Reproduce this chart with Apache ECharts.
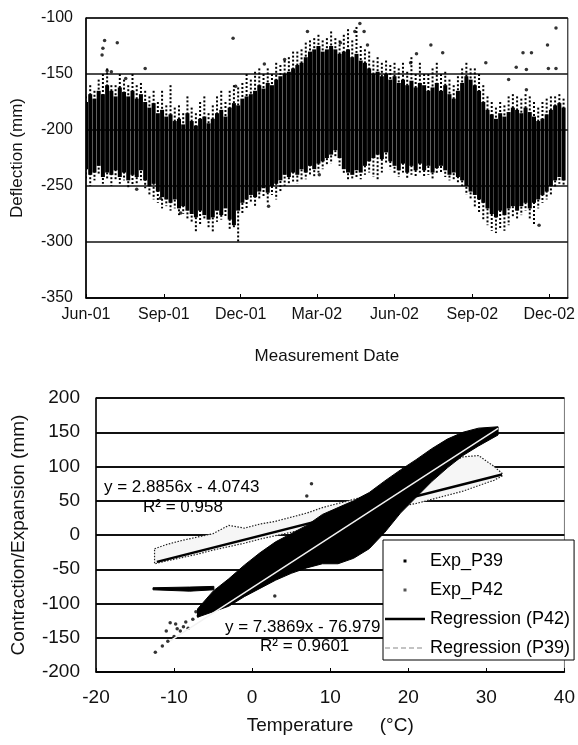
<!DOCTYPE html>
<html>
<head>
<meta charset="utf-8" />
<title></title>
<style>
  body { margin: 0; padding: 0; background: #fff; }
  #chart { width: 578px; height: 745px; }
</style>
<script src="https://cdn.jsdelivr.net/npm/echarts@6/dist/echarts.min.js"></script>
</head>
<body>
<div id="chart"></div>
<script>
// ---- top chart: deflection in 5-day bins from 1 Jun 2001 ----
const binDays = 5;
// dense core of the cloud (top / bottom) and the sparse spikes (max / min)
const topHi = [-175,-168,-172,-165,-168,-160,-165,-170,-162,-166,
  -170,-165,-172,-168,-175,-180,-176,-185,-182,-188,
  -186,-192,-190,-195,-185,-192,-196,-190,-188,-194,
  -190,-185,-182,-188,-180,-176,-178,-172,-170,-168,
  -165,-160,-163,-158,-160,-155,-152,-150,-148,-145,
  -142,-140,-135,-130,-128,-125,-130,-128,-125,-128,
  -132,-130,-128,-135,-132,-138,-140,-145,-150,-148,
  -152,-150,-155,-152,-158,-155,-160,-156,-162,-158,
  -160,-165,-162,-158,-165,-160,-168,-172,-165,-158,
  -152,-155,-160,-165,-175,-182,-186,-190,-185,-188,
  -184,-180,-182,-185,-180,-184,-188,-192,-190,-186,
  -182,-178,-176,-180];
const topLo = [-235,-240,-238,-232,-242,-238,-240,-236,-242,-238,
  -245,-240,-242,-236,-245,-250,-248,-255,-260,-262,
  -265,-262,-270,-268,-272,-275,-278,-272,-276,-280,
  -278,-272,-276,-270,-280,-285,-272,-265,-262,-258,
  -260,-255,-252,-256,-250,-248,-245,-240,-242,-238,
  -240,-235,-238,-232,-235,-230,-228,-225,-222,-218,
  -225,-235,-238,-240,-236,-238,-232,-228,-225,-222,
  -226,-220,-228,-232,-236,-230,-238,-232,-236,-230,
  -236,-232,-238,-234,-232,-236,-240,-238,-242,-245,
  -250,-255,-258,-262,-265,-270,-275,-278,-272,-276,
  -270,-268,-272,-268,-265,-270,-265,-262,-258,-255,
  -250,-245,-242,-245];
const topMax = [-170,-160,-165,-155,-150,-145,-160,-160,-150,-155,
  -160,-150,-160,-158,-165,-170,-165,-175,-165,-178,
  -160,-180,-178,-185,-170,-180,-185,-175,-170,-185,
  -178,-170,-165,-175,-165,-160,-162,-158,-150,-155,
  -148,-145,-150,-145,-150,-140,-142,-138,-135,-130,
  -130,-128,-122,-120,-118,-115,-120,-118,-112,-118,
  -120,-115,-110,-120,-108,-125,-128,-130,-138,-135,
  -140,-138,-142,-140,-145,-140,-148,-135,-150,-140,
  -150,-150,-145,-140,-150,-148,-155,-160,-152,-145,
  -140,-145,-145,-150,-160,-170,-175,-180,-175,-178,
  -170,-168,-170,-172,-168,-170,-175,-180,-175,-172,
  -170,-170,-168,-172];
const topMin = [-245,-250,-245,-240,-248,-245,-250,-245,-248,-245,
  -252,-250,-248,-245,-252,-258,-262,-265,-270,-268,
  -272,-270,-276,-275,-280,-282,-292,-285,-280,-288,
  -292,-282,-280,-278,-290,-288,-301,-275,-270,-265,
  -268,-262,-260,-265,-258,-262,-255,-250,-248,-246,
  -248,-245,-244,-240,-242,-238,-235,-232,-230,-225,
  -232,-240,-245,-245,-242,-244,-240,-238,-242,-245,
  -238,-230,-235,-240,-242,-238,-244,-240,-242,-238,
  -242,-240,-244,-240,-238,-242,-245,-244,-248,-250,
  -258,-262,-270,-275,-280,-285,-290,-292,-288,-290,
  -285,-278,-280,-276,-272,-280,-285,-270,-265,-262,
  -258,-252,-248,-250];
// isolated points: days after 1 Jun 2001, deflection
const outlierDays = [20,22,19,37,25,30,47,70,174,177,211,235,216,88,60,112,324,318,329,333,262,301,
  408,422,391,384,473,517,527,546,556,509,521,547,556,276,536,500,521];
const outlierVals = [-127,-120,-133,-122,-147,-148,-154,-145,-118,-161,-141,-137,-268,-261,-253,-274,-105,-112,-112,-124,-112,-122,
  -124,-131,-132,-140,-140,-131,-131,-124,-109,-144,-146,-145,-145,-240,-285,-155,-164];
const tickDates = [[2001,5,1],[2001,8,1],[2001,11,1],[2002,2,1],[2002,5,1],[2002,8,1],[2002,11,1]];
const tickLabels = ['Jun-01','Sep-01','Dec-01','Mar-02','Jun-02','Sep-02','Dec-02'];
const lastDate = [2002, 11, 23];

// ---- bottom chart: contraction/expansion vs temperature ----
// dense P39 cloud, lower / upper edge
const p39T  = [-7,-5,-3,-1,1,3,5,7,9,11,13,15,17,19,21,23,25,27,29,31.5];
const p39Lo = [-120,-112,-104,-90,-78,-66,-56,-48,-42,-42,-34,-20,4,32,55,78,98,116,130,146];
const p39Hi = [-108,-82,-64,-44,-26,-10,2,14,30,40,50,62,79,95,110,126,140,150,156,158];
// horizontal streak of P39 readings near -80
const streakT  = [-12.7,-8,-4.9];
const streakLo = [-80,-82,-80];
const streakHi = [-77,-76,-75];
// sparse P39 points
const p39DotT = [-12.4,-11.5,-10.8,-10.0,-9.2,-8.5,-7.6,-6.9,-6.4,-5.6,-9.8,-8.8,-10.5,-9.6,-8.2,-11.0,-7.2,7.6,7.0,2.9];
const p39DotV = [-171,-162,-155,-148,-140,-127,-123,-118,-108,-104,-130,-134,-128,-137,-136,-140,-112,75,57,-89];
// P42 cloud, lower / upper edge
const p42T  = [-12.5,-11,-9,-7,-5,-3,-1,1,3,5,7,9,11,13,15,17,19,21,23,25,27,29,31,32];
const p42Lo = [-42,-38,-33,-28,-22,-17,-12,-6,-1,4,9,14,19,25,30,36,42,46,52,58,64,72,80,86];
const p42Hi = [-20,-14,-8,-3,2,14,10,16,20,26,32,40,46,52,58,66,74,82,92,104,114,116,100,90];
// regressions: slope, intercept, x range
const regP42 = { slope: 2.8856, intercept: -4.0743, from: -12.2, to: 32 };
const regP39 = { slope: 7.3869, intercept: -76.979, from: -10.5, to: 31.5 };

// x of the top chart = days since 1 Jun 2001
const DAY = 86400000;
const t0 = new Date(2001, 5, 1).getTime();
const toDay = d => Math.round((new Date(d[0], d[1], d[2]).getTime() - t0) / DAY);
const tickDays = tickDates.map(toDay);

const binData = topHi.map((h, i) => [i * binDays, h, topLo[i], topMax[i], topMin[i]]);
const outlierData = outlierDays.map((d, i) => [d, outlierVals[i]]);

function renderBin(params, api) {
  const x = api.coord([api.value(0), api.value(1)])[0];
  const yHi = api.coord([api.value(0), api.value(1)])[1];
  const yLo = api.coord([api.value(0), api.value(2)])[1];
  const yMax = api.coord([api.value(0), api.value(3)])[1];
  const yMin = api.coord([api.value(0), api.value(4)])[1];
  return {
    type: 'group',
    children: [
      { type: 'line', shape: { x1: x, y1: yMax, x2: x, y2: yMin },
        style: { stroke: '#000', lineWidth: 2, lineDash: [2, 2] } },
      { type: 'rect', shape: { x: x - 2, y: yHi, width: 4, height: yLo - yHi },
        style: { fill: '#000' } }
    ]
  };
}

function band(T, lo, hi, style) {
  return function (params, api) {
    if (params.dataIndex !== 0) return null;
    const pts = [];
    for (let i = 0; i < T.length; i++) pts.push(api.coord([T[i], hi[i]]));
    for (let i = T.length - 1; i >= 0; i--) pts.push(api.coord([T[i], lo[i]]));
    return { type: 'polygon', shape: { points: pts }, style: style };
  };
}

function regLine(r) {
  return [[r.from, r.slope * r.from + r.intercept], [r.to, r.slope * r.to + r.intercept]];
}

// legend icons, drawn inside a 40x14 box
const dotIcon = 'path://M0,0 M40,14 M18.5,5.5 h3 v3 h-3 z';
const thickIcon = 'path://M0,0 M40,14 M0,5.8 h40 v2.4 h-40 z';
const thinIcon = 'path://M0,0 M40,14 M0,6.5 h5 v1 h-5 z M8,6.5 h5 v1 h-5 z M16,6.5 h5 v1 h-5 z M24,6.5 h5 v1 h-5 z M32,6.5 h5 v1 h-5 z';
const font = 'Liberation Sans';

const option = {
  animation: false,
  textStyle: { fontFamily: font, color: '#000' },
  grid: [
    { left: 86, top: 18, width: 482, height: 280, show: true, borderColor: '#000', borderWidth: 1 },
    { left: 96, top: 398, width: 473, height: 274, show: true, borderColor: '#777', borderWidth: 1 }
  ],
  xAxis: [
    {
      gridIndex: 0, type: 'value',
      min: 0, max: toDay(lastDate),
      name: 'Measurement Date', nameLocation: 'middle', nameGap: 50,
      nameTextStyle: { fontSize: 17, color: '#111' },
      axisLine: { onZero: false, lineStyle: { color: '#000', width: 1.5 } },
      axisTick: { inside: true, length: 4, customValues: tickDays, lineStyle: { color: '#000' } },
      axisLabel: {
        customValues: tickDays, fontSize: 16, color: '#111', margin: 9,
        formatter: v => tickLabels[tickDays.indexOf(v)] || ''
      },
      splitLine: { show: false }
    },
    {
      gridIndex: 1, type: 'value', min: -20, max: 40, interval: 10,
      name: 'Temperature     (°C)', nameLocation: 'middle', nameGap: 44,
      nameTextStyle: { fontSize: 19, color: '#111' },
      axisLine: { onZero: false, lineStyle: { color: '#000', width: 1.5 } },
      axisTick: { inside: true, length: 4, lineStyle: { color: '#000' } },
      axisLabel: { fontSize: 19, color: '#111', margin: 16 },
      splitLine: { show: false }
    }
  ],
  yAxis: [
    {
      gridIndex: 0, type: 'value', min: -350, max: -100, interval: 50,
      name: 'Deflection (mm)', nameLocation: 'middle', nameGap: 60,
      nameTextStyle: { fontSize: 17, color: '#111' },
      axisLine: { show: true, onZero: false, lineStyle: { color: '#000', width: 1.5 } },
      axisTick: { show: false },
      axisLabel: { fontSize: 16, color: '#111', margin: 13 },
      splitLine: { lineStyle: { color: '#111', width: 1.5 } }
    },
    {
      gridIndex: 1, type: 'value', min: -200, max: 200, interval: 50,
      name: 'Contraction/Expansion (mm)', nameLocation: 'middle', nameGap: 68,
      nameTextStyle: { fontSize: 19, color: '#111' },
      axisLine: { show: true, onZero: false, lineStyle: { color: '#000', width: 1.5 } },
      axisTick: { show: false },
      axisLabel: { fontSize: 19, color: '#111', margin: 16 },
      splitLine: { lineStyle: { color: '#111', width: 2 } }
    }
  ],
  legend: {
    orient: 'vertical', left: 383, top: 540,
    padding: [12, 4, 3, 2], itemGap: 11, itemWidth: 40, itemHeight: 14,
    backgroundColor: '#fff', borderColor: '#000', borderWidth: 1, borderRadius: 0,
    selectedMode: false,
    textStyle: { fontSize: 18, color: '#000', fontFamily: font },
    data: [
      { name: 'Exp_P39', icon: dotIcon, itemStyle: { color: '#000' } },
      { name: 'Exp_P42', icon: dotIcon, itemStyle: { color: '#555' } },
      { name: 'Regression (P42)', icon: thickIcon, itemStyle: { color: '#000' } },
      { name: 'Regression (P39)', icon: thinIcon, itemStyle: { color: '#888' } }
    ]
  },
  graphic: [
    { type: 'text', left: 104, top: 479, z: 3, style: { text: 'y = 2.8856x - 4.0743', fontSize: 17, fontFamily: font, fill: '#000' } },
    { type: 'text', left: 143, top: 499, z: 3, style: { text: 'R² = 0.958', fontSize: 17, fontFamily: font, fill: '#000' } },
    { type: 'text', left: 225, top: 619, z: 3, style: { text: 'y = 7.3869x - 76.979', fontSize: 17, fontFamily: font, fill: '#000' } },
    { type: 'text', left: 260, top: 638, z: 3, style: { text: 'R² = 0.9601', fontSize: 17, fontFamily: font, fill: '#000' } }
  ],
  series: [
    {
      name: 'Deflection', type: 'custom', xAxisIndex: 0, yAxisIndex: 0,
      renderItem: renderBin, data: binData, clip: true,
      encode: { x: 0, y: [1, 2, 3, 4] }
    },
    {
      name: 'Deflection outliers', type: 'scatter', xAxisIndex: 0, yAxisIndex: 0,
      data: outlierData, symbolSize: 3.5, itemStyle: { color: '#000' }
    },
    {
      name: 'Exp_P42', type: 'custom', xAxisIndex: 1, yAxisIndex: 1,
      itemStyle: { color: '#555' },
      renderItem: band(p42T, p42Lo, p42Hi, { fill: '#f6f6f6', stroke: '#222', lineWidth: 1.2, lineDash: [1.5, 1.5] }),
      data: p42T.map((t, i) => [t, p42Lo[i], p42Hi[i]]), encode: { x: 0, y: [1, 2] }
    },
    {
      name: 'Exp_P39', type: 'custom', xAxisIndex: 1, yAxisIndex: 1,
      itemStyle: { color: '#000' },
      renderItem: band(p39T, p39Lo, p39Hi, { fill: '#000', stroke: '#000', lineWidth: 1 }),
      data: p39T.map((t, i) => [t, p39Lo[i], p39Hi[i]]), encode: { x: 0, y: [1, 2] }
    },
    {
      name: 'Exp_P39', type: 'custom', xAxisIndex: 1, yAxisIndex: 1,
      itemStyle: { color: '#000' },
      renderItem: band(streakT, streakLo, streakHi, { fill: '#000', stroke: '#000', lineWidth: 1 }),
      data: streakT.map((t, i) => [t, streakLo[i], streakHi[i]]), encode: { x: 0, y: [1, 2] }
    },
    {
      name: 'Exp_P39', type: 'scatter', xAxisIndex: 1, yAxisIndex: 1,
      data: p39DotT.map((t, i) => [t, p39DotV[i]]), symbolSize: 3.5, itemStyle: { color: '#000' }
    },
    {
      name: 'Regression (P42)', type: 'line', xAxisIndex: 1, yAxisIndex: 1,
      data: regLine(regP42), symbol: 'none', itemStyle: { color: '#000' },
      lineStyle: { color: '#000', width: 2.5 }
    },
    {
      name: 'Regression (P39)', type: 'line', xAxisIndex: 1, yAxisIndex: 1,
      data: regLine(regP39), symbol: 'none', itemStyle: { color: '#888' },
      lineStyle: { color: '#f2f2f2', width: 1.5 }
    }
  ]
};

const myChart = echarts.init(document.getElementById('chart'));
myChart.setOption(option);
</script>
</body>
</html>
